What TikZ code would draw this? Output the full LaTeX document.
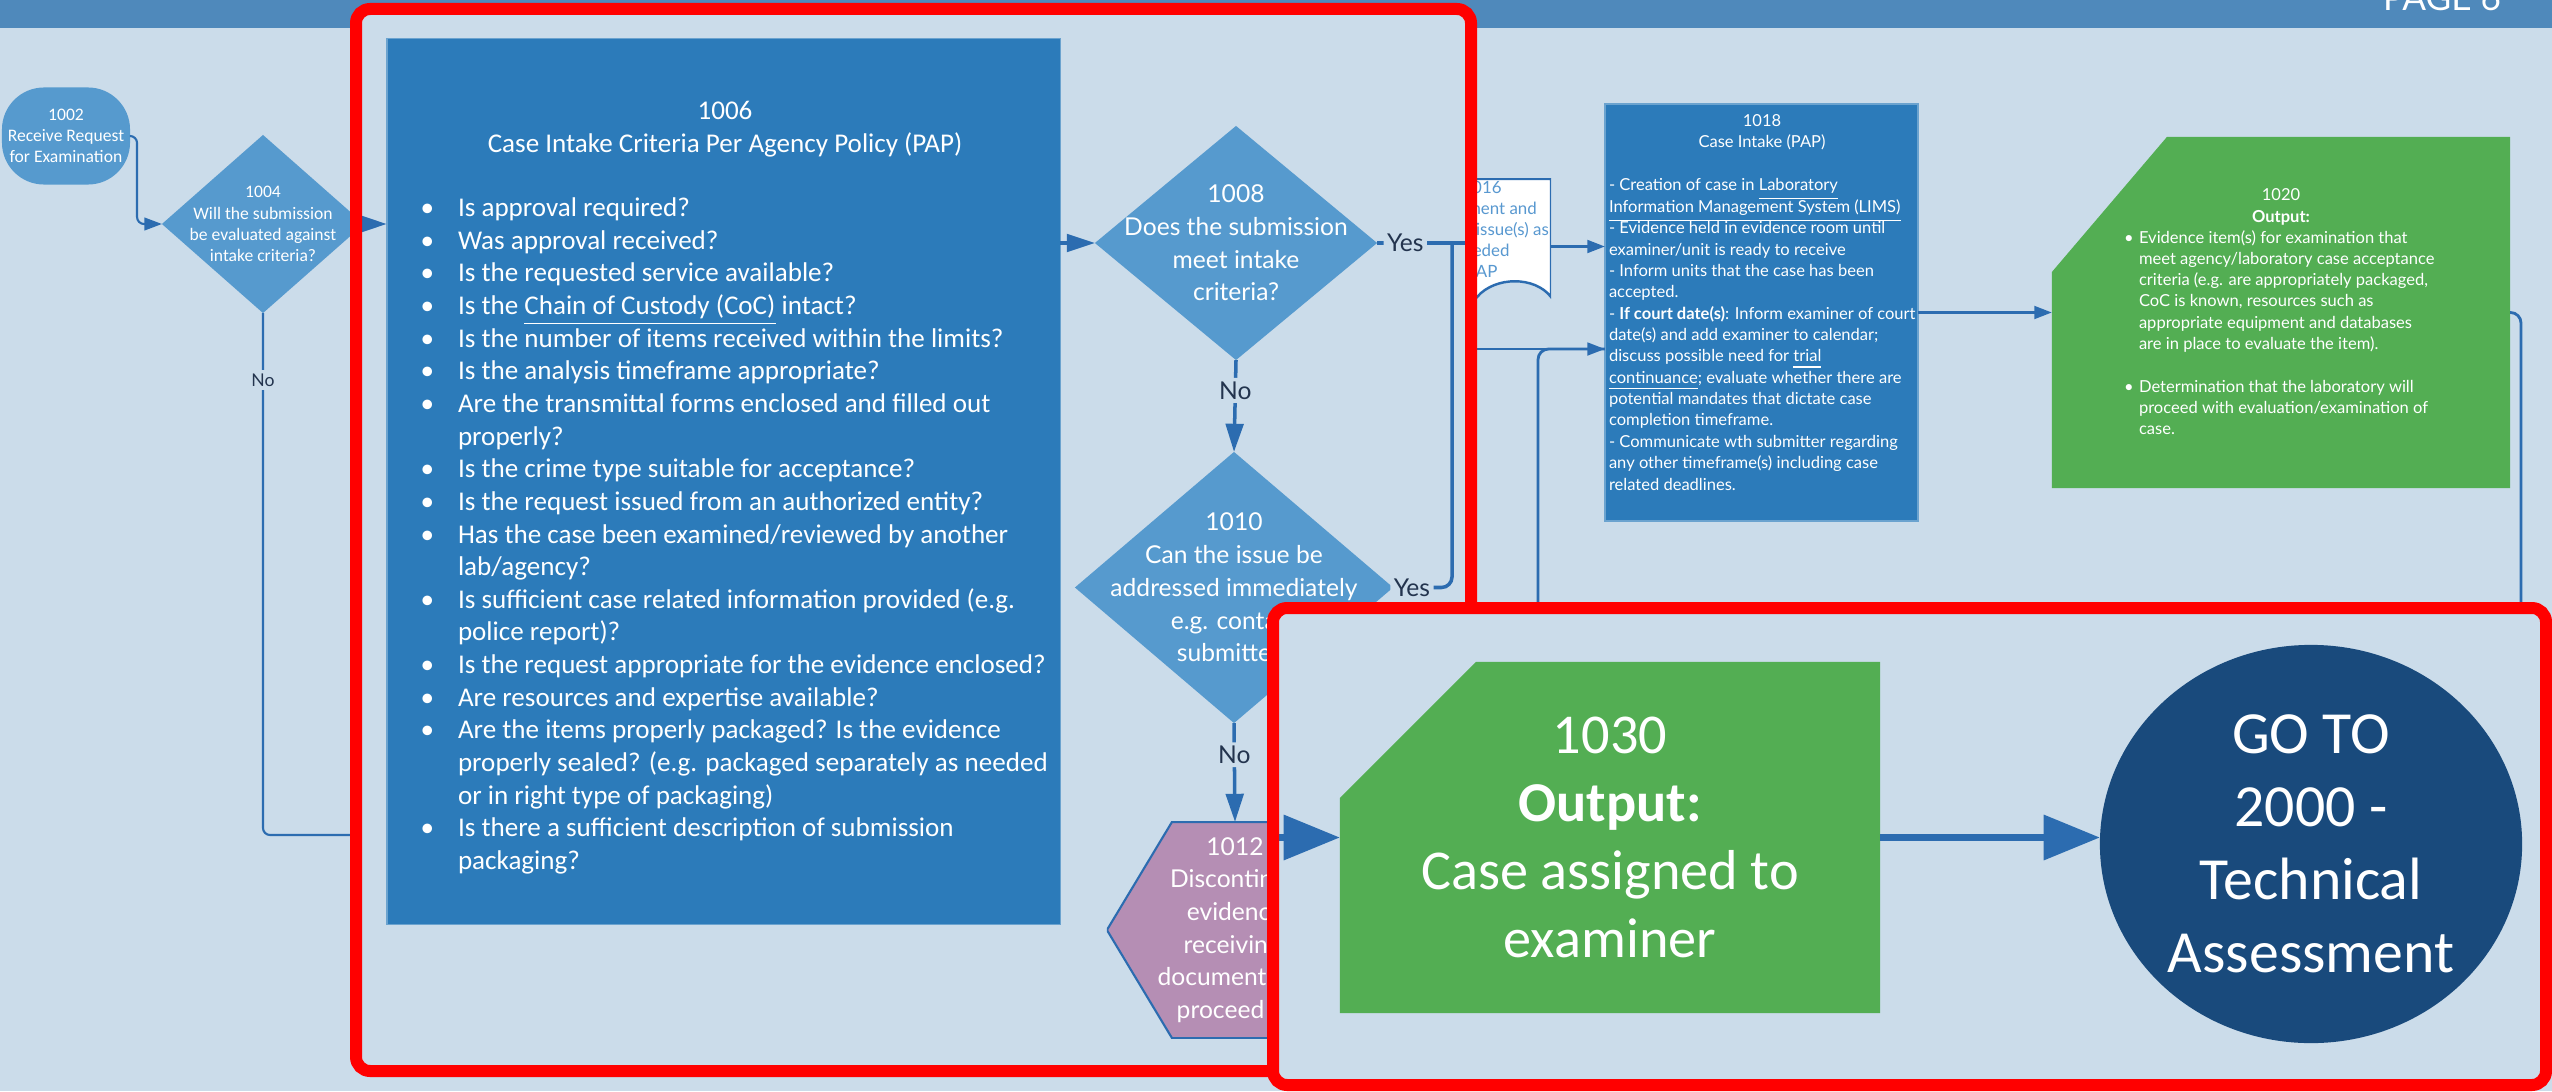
\documentclass[tikz,border=0pt]{standalone}
\usepackage{fontspec}
\setmainfont{Carlito}
\newfontfamily\lato{Lato}
\usetikzlibrary{arrows.meta,shapes.geometric}

\definecolor{bgcol}{RGB}{203,220,234}
\definecolor{barcol}{RGB}{79,137,187}
\definecolor{boxblue}{RGB}{44,123,186}
\definecolor{diablue}{RGB}{86,154,206}
\definecolor{linecol}{RGB}{44,108,176}
\definecolor{outgreen}{RGB}{83,174,83}
\definecolor{hexpink}{RGB}{181,142,180}
\definecolor{gonavy}{RGB}{25,74,124}
\definecolor{labcol}{RGB}{35,52,78}
\definecolor{doctext}{RGB}{88,152,208}

\newcommand\bul{\llap{\textbullet\hspace{6.8pt}}}
\newcommand\sbul{\llap{\textbullet\hspace{1.5pt}}}

\tikzset{
  every node/.style={inner sep=0pt,outer sep=0pt},
  conn/.style={draw=linecol,line width=1pt,rounded corners=3pt},
  thinconn/.style={draw=linecol,line width=0.6pt,rounded corners=2pt},
  tipbig/.style={-{Triangle[length=8pt,width=5pt]}},
  tipsmall/.style={-{Triangle[length=5pt,width=3.6pt]}},
  bigconn/.style={draw=linecol,line width=2pt,-{Triangle[length=16pt,width=12.5pt]}},
  lab/.style={fill=bgcol,text=labcol,inner sep=1pt,font=\lato\fontsize{7}{8}\selectfont},
  dia/.style={diamond,aspect=1,fill=diablue},
  diatxt/.style={text=white,align=center,font=\lato\fontsize{7}{9.3}\selectfont},
  smalltxt/.style={text=white,align=center,font=\fontsize{5}{6}\selectfont},
  crit/.style={text=white,font=\fontsize{7.7}{9.3}\selectfont},
  notes/.style={text=white,font=\lato\fontsize{4.7}{6}\selectfont},
  startbox/.style={rectangle,rounded corners=0.42cm,fill=diablue,
    minimum width=1.28cm,minimum height=0.97cm,smalltxt},
  procbox/.style={rectangle,fill=boxblue,draw=boxblue!70!white,line width=0.4pt},
  outshape/.style 2 args={rectangle,fill=bgcol,path picture={
    \fill[outgreen] (path picture bounding box.south west)
      -- (path picture bounding box.south east)
      -- (path picture bounding box.north east)
      -- ([xshift=#1]path picture bounding box.north west)
      -- ([yshift=-#2]path picture bounding box.north west) -- cycle;}},
  hexshape/.style={rectangle,fill=bgcol,path picture={
    \filldraw[fill=hexpink,draw=linecol,line width=0.6pt]
      (path picture bounding box.west)
      -- ([xshift=0.65cm]path picture bounding box.north west)
      -- ([xshift=-0.65cm]path picture bounding box.north east)
      -- (path picture bounding box.east)
      -- ([xshift=-0.65cm]path picture bounding box.south east)
      -- ([xshift=0.65cm]path picture bounding box.south west) -- cycle;}},
  docshape/.style={rectangle,fill=bgcol,path picture={
    \filldraw[fill=white,draw=linecol,line width=0.7pt]
      (path picture bounding box.north west)
      -- (path picture bounding box.north east)
      -- ([yshift=0.17cm]path picture bounding box.south east)
      .. controls +(-0.16cm,0.21cm) and +(0.18cm,0.21cm)
      .. ([xshift=0.57cm,yshift=0.17cm]path picture bounding box.south west)
      .. controls +(-0.15cm,-0.17cm) and +(0.15cm,-0.1cm)
      .. ([yshift=0.1cm]path picture bounding box.south west) -- cycle;}},
  framestyle/.style={draw=red,line width=0.12cm,rounded corners=4pt},
}

\begin{document}
\begin{tikzpicture}[x=0.01cm,y=-0.01cm]

% Page
\useasboundingbox (0,0) rectangle (2552,1091);
\fill[bgcol] (0,0) rectangle (2552,1091);
\fill[barcol] (0,0) rectangle (2552,28);
\node[anchor=base,text=white,font=\lato\fontsize{10}{11}\selectfont] (page) at (2442,11) {PAGE 6};

% Request
\node[startbox] (n1002) at (66,136) {1002\\Receive Request\\for Examination};
\node[dia,minimum width=2.02cm,minimum height=1.78cm,
  label={[smalltxt]center:{1004\\Will the submission\\be evaluated against\\intake criteria?}}]
  (n1004) at (263,224) {};
\draw[thinconn,tipsmall] (n1002.east) -- ++(7,0) |- (n1004.west);
\coordinate (noend) at (420,835);
\draw[thinconn] (n1004.south) |- (noend);
\node[lab,font=\lato\fontsize{5}{6}\selectfont] (no1004) at (263,380) {No};

% Document
\node[docshape,minimum width=1.31cm,minimum height=1.35cm] (n1016) at (1485.5,246.5) {};
\node[align=center,text=doctext,font=\lato\fontsize{4.8}{6}\selectfont] (t1016) at (1482,229.5)
{1016\\Document and\\address issue(s) as\\needed\\PAP};

% Case intake
\node[procbox,minimum width=3.13cm,minimum height=4.17cm] (n1018) at (1761.5,312.5) {};
\node[notes,anchor=base] (h1018a) at (1762,127) {1018};
\node[notes,anchor=base] (h1018b) at (1762,148) {Case Intake (PAP)};
\foreach \t [count=\k from 0] in {
{- Creation of case in \underline{Laboratory}},
{\underline{Information Management System (LIMS)}},
{- Evidence held in evidence room until},
{examiner/unit is ready to receive},
{- Inform units that the case has been},
{accepted.},
{- \textbf{If court date(s)}: Inform examiner of court},
{date(s) and add examiner to calendar;},
{discuss possible need for \underline{trial}},
{\underline{continuance}; evaluate whether there are},
{potential mandates that dictate case},
{completion timeframe.},
{- Communicate wth submitter regarding},
{any other timeframe(s) including case},
{related deadlines.}
}
{
\node[notes,anchor=base west] (r\k) at (1609,191+21.36*\k) {\t};
}

% Output 1020
\node[outshape={1.15cm}{1.35cm},minimum width=4.58cm,minimum height=3.51cm] (n1020) at (2281,312.5) {};
\node[notes,anchor=base] (h1020a) at (2281,201) {1020};
\node[notes,anchor=base] (h1020b) at (2281,222) {\textbf{Output:}};
\foreach \t [count=\k from 0] in {
{\sbul Evidence item(s) for examination that},
{meet agency/laboratory case acceptance},
{criteria (e.g. are appropriately packaged,},
{CoC is known, resources such as},
{appropriate equipment and databases},
{are in place to evaluate the item).},
{},
{\sbul Determination that the laboratory will},
{proceed with evaluation/examination of},
{case.}
}
{
\node[notes,anchor=base west] (o\k) at (2139,243+21.3*\k) {\t};
}

% Links on the right
\draw[conn,line width=0.8pt,tipsmall] (n1016.east) -- (n1016.east -| n1018.west);
\coordinate (lowin) at (1440,349);
\coordinate (lowup) at (1538,700);
\draw[conn,line width=0.8pt,tipsmall] (lowin) -- (lowin -| n1018.west);
\draw[conn,line width=0.8pt] (lowup) |- (lowin -| n1018.west);
\draw[conn,line width=0.8pt,tipsmall] (n1018.east) -- (n1018.east -| n1020.west);
\coordinate (rdown) at (2521,700);
\draw[conn,line width=0.8pt] (n1020.east) -| (rdown);

% Zoom 1
\fill[bgcol] (356,9) rectangle (1471,1071);

\node[procbox,minimum width=6.73cm,minimum height=8.85cm] (n1006) at (723.5,481.5) {};
\node[crit,anchor=base] (h1006a) at (725,120) {1006};
\node[crit,anchor=base] (h1006b) at (725,152.6) {Case Intake Criteria Per Agency Policy (PAP)};
\foreach \t [count=\k from 0] in {
{\bul Is approval required?},
{\bul Was approval received?},
{\bul Is the requested service available?},
{\bul Is the \underline{Chain of Custody (CoC)} intact?},
{\bul Is the number of items received within the limits?},
{\bul Is the analysis timeframe appropriate?},
{\bul Are the transmittal forms enclosed and filled out},
{properly?},
{\bul Is the crime type suitable for acceptance?},
{\bul Is the request issued from an authorized entity?},
{\bul Has the case been examined/reviewed by another},
{lab/agency?},
{\bul Is sufficient case related information provided (e.g.},
{police report)?},
{\bul Is the request appropriate for the evidence enclosed?},
{\bul Are resources and expertise available?},
{\bul Are the items properly packaged? Is the evidence},
{properly sealed? (e.g. packaged separately as needed},
{or in right type of packaging)},
{\bul Is there a sufficient description of submission},
{packaging?}
}
{
\node[crit,anchor=base west] (c\k) at (458,216.5+32.65*\k) {\t};
}

\node[dia,minimum width=2.82cm,minimum height=2.34cm,
  label={[diatxt]center:{1008\\Does the submission\\meet intake\\criteria?}}]
  (n1008) at (1236,243) {};
\node[dia,minimum width=3.18cm,minimum height=2.71cm,
  label={[diatxt]center:{1010\\Can the issue be\\addressed immediately\\e.g. contact\\submitter?}}]
  (n1010) at (1234,587.5) {};
\node[hexshape,minimum width=2.56cm,minimum height=2.16cm,text=white,align=center,
  font=\lato\fontsize{7}{9.3}\selectfont] (n1012) at (1235,930)
  {1012\\Discontinue\\evidence\\receiving,\\document and\\proceed to};

\draw[conn,tipbig] (n1004.east) -- (n1004.east -| n1006.west);
\draw[conn,tipbig] (n1006.east |- n1008.west) -- (n1008.west);
\draw[conn,tipbig] (n1008.south) -- node[lab,pos=0.33] {No} (n1010.north);
\draw[conn,tipbig] (n1010.south) -- node[lab,pos=0.32] {No} (n1012.north);
\coordinate (yesend) at (1471,243);
\coordinate (yesbus) at (1452,243);
\draw[conn] (n1008.east) -- node[lab,pos=0.3] {Yes} (yesend);
\draw[conn] (n1010.east) -| node[lab,pos=0.16] {Yes} (yesbus);

\draw[framestyle] (356,9) rectangle (1471,1071);

% Zoom 2
\fill[bgcol] (1273,608) rectangle (2546,1085);

\node[outshape={1.36cm}{1.36cm},minimum width=5.4cm,minimum height=3.51cm,
  text=white,align=center,font=\fontsize{16}{19.4}\selectfont]
  (n1030) at (1610,837.5) {1030\\\textbf{Output:}\\Case assigned to\\examiner};
\node[ellipse,fill=gonavy,minimum width=4.22cm,minimum height=3.98cm,
  label={[text=white,align=center,font=\fontsize{17}{20.8}\selectfont]center:{GO TO\\2000 -\\Technical\\Assessment}}]
  (n2000) at (2311,844) {};
\coordinate (in1030) at (1268,837.5);
\draw[bigconn] (in1030) -- (n1030.west);
\draw[bigconn] (n1030.east) -- (n1030.east -| n2000.west);

\draw[framestyle] (1273,608) rectangle (2546,1085);

\end{tikzpicture}
\end{document}
